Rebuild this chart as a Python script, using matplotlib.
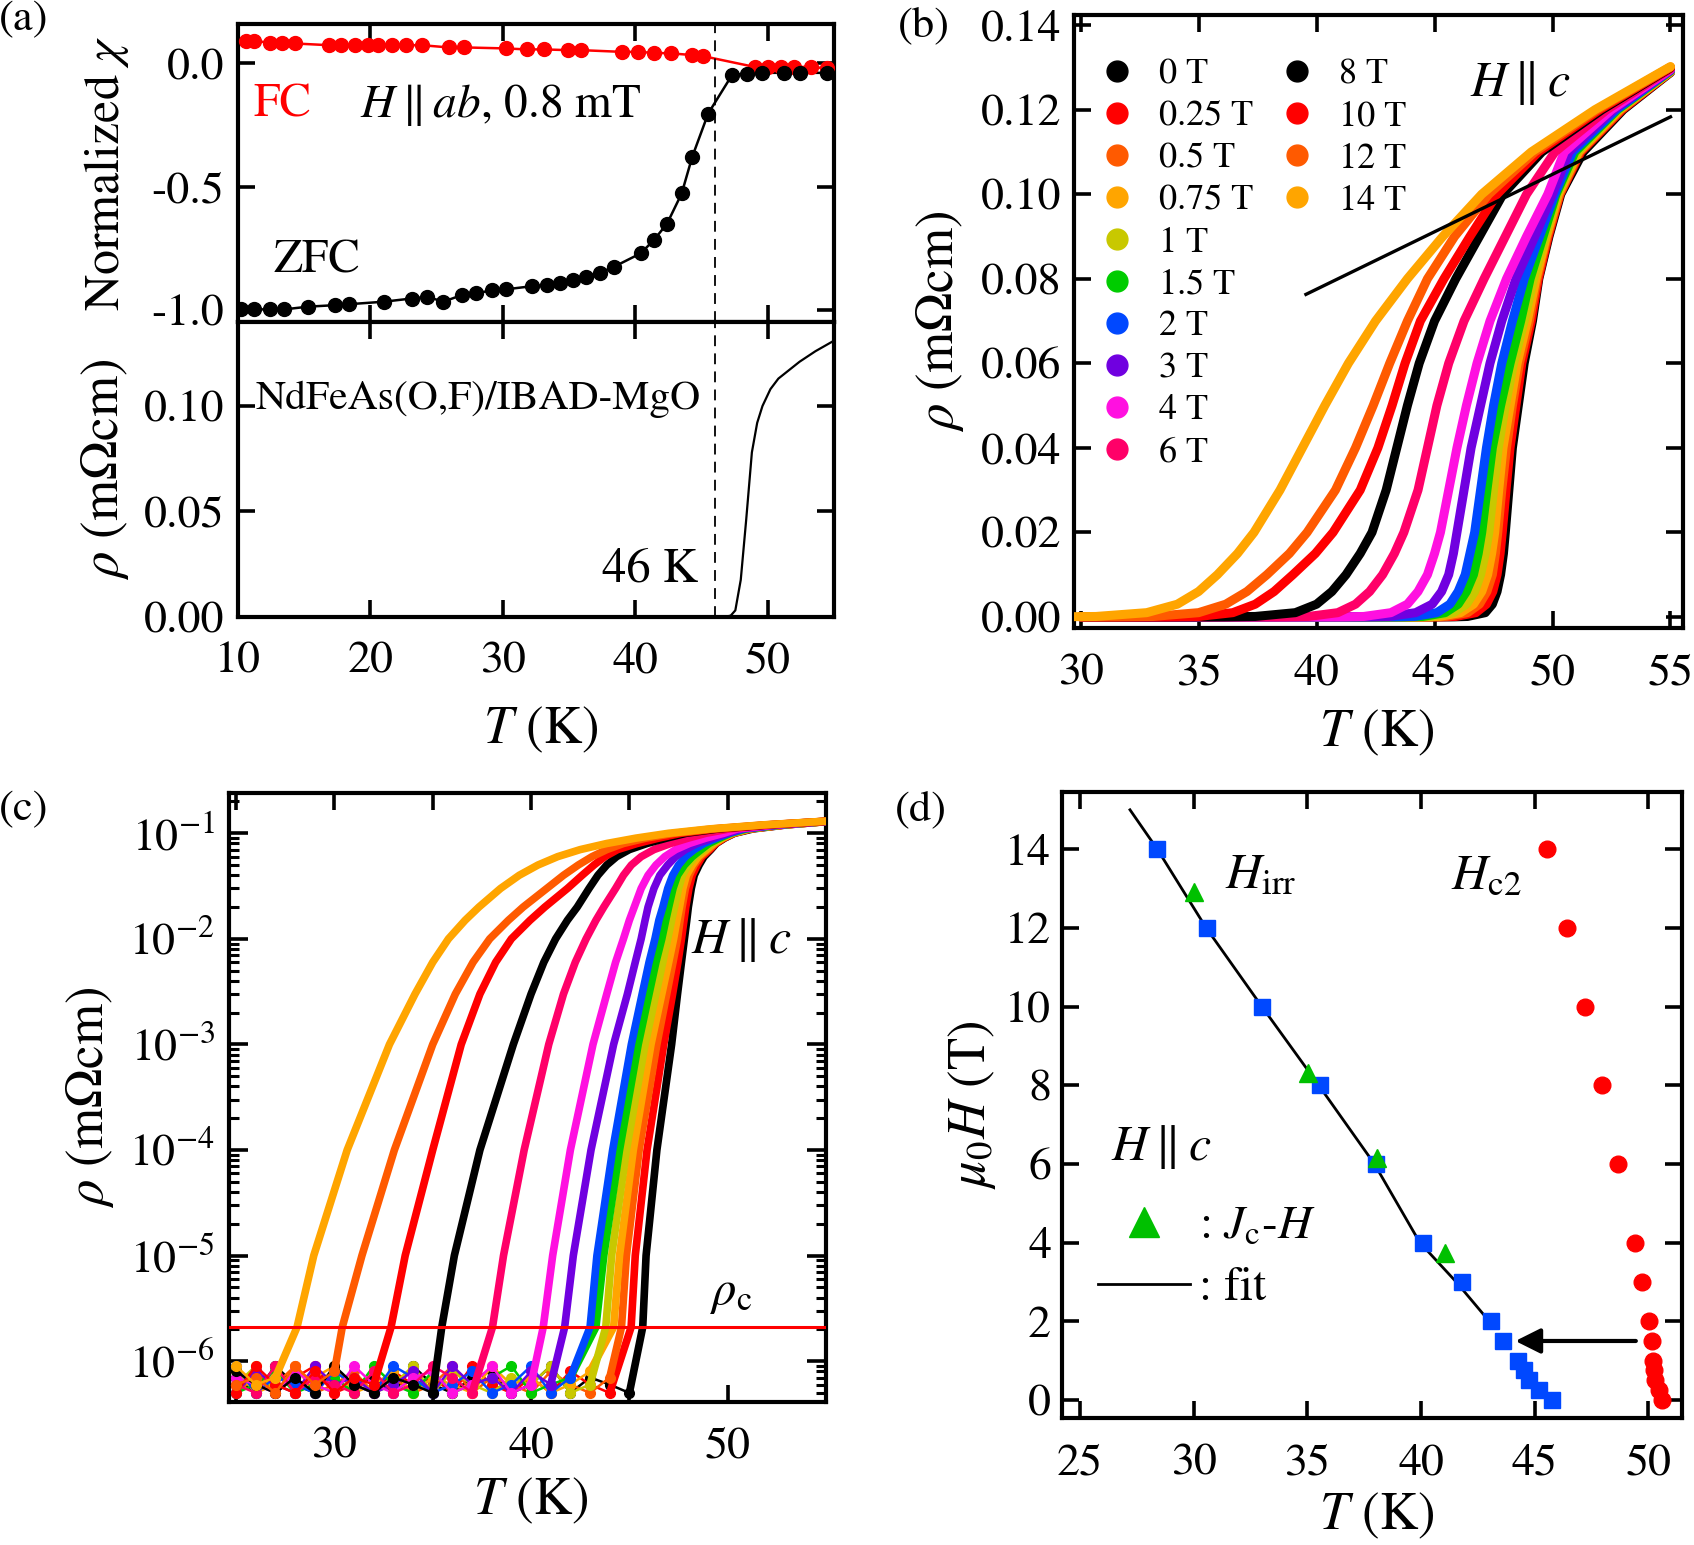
import matplotlib
matplotlib.use('Agg')
import matplotlib.pyplot as plt
from matplotlib.lines import Line2D
from matplotlib.ticker import (MultipleLocator, FormatStrFormatter, LogLocator,
                               NullFormatter, FixedLocator)

plt.rcParams['font.family'] = ['STIXGeneral', 'DejaVu Serif']
plt.rcParams['mathtext.fontset'] = 'stix'
plt.rcParams['axes.unicode_minus'] = False

# ---------------- panel (a): susceptibility ----------------
zfc_T = [10.2, 11.2, 12.4, 13.5, 15.3, 17.3, 18.4, 21.0, 23.1, 24.3, 25.5, 26.9, 28.0,
         29.2, 30.2, 32.2, 33.3, 34.3, 35.3, 36.3, 37.3, 38.4, 40.4, 41.4, 42.4, 43.5,
         44.3, 45.5, 47.3, 48.4, 49.6, 51.2, 52.4, 54.5]
zfc_chi = [-0.997, -0.997, -0.997, -0.997, -0.986, -0.980, -0.976, -0.966, -0.953, -0.946,
           -0.966, -0.939, -0.932, -0.919, -0.916, -0.903, -0.899, -0.889, -0.878, -0.865,
           -0.849, -0.824, -0.770, -0.716, -0.649, -0.527, -0.378, -0.203, -0.047, -0.041,
           -0.038, -0.038, -0.038, -0.038]
fc_T = [10.6, 11.2, 12.4, 13.3, 14.3, 16.9, 17.8, 18.8, 19.8, 20.6, 21.6, 22.7, 23.9,
        25.9, 27.1, 30.2, 31.8, 33.1, 34.9, 35.9, 39.0, 40.2, 41.4, 42.7, 44.3, 45.1,
        49.0, 50.0, 51.0, 52.0, 53.3, 54.5]
fc_chi = [0.092, 0.092, 0.084, 0.081, 0.081, 0.074, 0.074, 0.074, 0.074, 0.074, 0.074,
          0.074, 0.074, 0.065, 0.065, 0.061, 0.057, 0.057, 0.054, 0.054, 0.047, 0.047,
          0.043, 0.041, 0.034, 0.030, -0.014, -0.014, -0.014, -0.014, -0.014, -0.020]
# panel (a): zero-field resistivity
rhoA_T = [10.0, 46.8, 47.2, 47.55, 47.96, 48.37, 48.8, 49.2, 49.6, 50.2, 50.8, 51.6,
          52.4, 53.6, 55.0]
rhoA = [0.0, 0.0, 0.0005, 0.003, 0.0175, 0.046, 0.078, 0.092, 0.100, 0.108, 0.113,
        0.117, 0.121, 0.126, 0.131]
Tc_onset = 46.0

# ---------------- panels (b),(c): rho(T) in fields ----------------
field_labels = ['0 T', '0.25 T', '0.5 T', '0.75 T', '1 T', '1.5 T', '2 T', '3 T',
                '4 T', '6 T', '8 T', '10 T', '12 T', '14 T']
field_colors = ['#000000', '#ff0000', '#ff5a00', '#ffa500', '#c8c800', '#00cc00',
                '#0048ff', '#7000e0', '#ff10e0', '#ff0068', '#000000', '#ff0000',
                '#ff5a00', '#ffa500']
# resistivity levels (mOhm cm) at which each curve's temperature is read
rho_levels = [2.1e-6, 1e-5, 1e-4, 1e-3, 3e-3, 6e-3, 0.01, 0.015, 0.02, 0.03, 0.04,
              0.05, 0.06, 0.07, 0.08, 0.09, 0.10, 0.11, 0.12]
T_0T = [45.68, 45.85, 46.4, 47.15, 47.45, 47.65, 47.8, 47.92, 48.0, 48.15, 48.3, 48.55, 48.8, 49.15, 49.42, 49.85, 50.35, 51.3, 53.0]
T_025T = [45.09, 45.3, 45.9, 46.75, 47.2, 47.47, 47.65, 47.78, 47.87, 48.03, 48.2, 48.45, 48.7, 49.1, 49.4, 49.82, 50.32, 51.2, 52.95]
T_05T = [44.6, 44.85, 45.5, 46.4, 46.9, 47.22, 47.45, 47.58, 47.68, 47.85, 48.05, 48.3, 48.6, 49.02, 49.35, 49.78, 50.3, 51.15, 52.9]
T_075T = [44.2, 44.5, 45.2, 46.1, 46.65, 47.0, 47.25, 47.42, 47.55, 47.72, 47.9, 48.2, 48.5, 48.93, 49.3, 49.74, 50.25, 51.1, 52.85]
T_1T = [43.8, 44.1, 44.85, 45.8, 46.35, 46.7, 46.95, 47.15, 47.3, 47.5, 47.7, 48.0, 48.35, 48.8, 49.2, 49.68, 50.2, 51.05, 52.8]
T_15T = [43.3, 43.7, 44.5, 45.45, 46.0, 46.35, 46.65, 46.85, 47.0, 47.22, 47.45, 47.8, 48.2, 48.65, 49.05, 49.6, 50.15, 50.95, 52.75]
T_2T = [43.0, 43.35, 44.15, 45.1, 45.65, 46.0, 46.3, 46.5, 46.7, 46.95, 47.2, 47.5, 47.85, 48.3, 48.8, 49.45, 50.1, 50.85, 52.7]
T_3T = [41.71, 42.15, 43.05, 44.2, 44.9, 45.3, 45.6, 45.8, 45.95, 46.25, 46.55, 46.95, 47.35, 47.85, 48.45, 49.25, 50.0, 50.7, 52.6]
T_4T = [40.62, 41.1, 42.0, 43.15, 43.85, 44.3, 44.7, 45.0, 45.25, 45.6, 45.95, 46.35, 46.8, 47.35, 48.05, 48.9, 49.8, 50.5, 52.5]
T_6T = [38.04, 38.6, 39.65, 40.9, 41.65, 42.25, 42.8, 43.3, 43.7, 44.3, 44.7, 45.1, 45.6, 46.25, 47.1, 48.0, 48.9, 50.1, 52.3]
T_8T = [35.46, 36.1, 37.4, 39.1, 40.0, 40.65, 41.25, 41.85, 42.35, 42.95, 43.4, 43.85, 44.35, 45.0, 45.9, 46.9, 47.9, 49.55, 52.1]
T_10T = [32.88, 33.6, 35.0, 36.45, 37.4, 38.2, 39.0, 39.95, 40.7, 41.85, 42.6, 43.2, 43.75, 44.4, 45.4, 46.5, 47.65, 49.4, 52.0]
T_12T = [30.4, 31.4, 33.05, 35.0, 36.15, 37.05, 37.9, 38.85, 39.6, 40.8, 41.65, 42.4, 43.1, 43.85, 44.7, 45.85, 47.3, 49.25, 51.9]
T_14T = [28.1, 28.95, 30.65, 32.8, 34.1, 35.0, 35.8, 36.65, 37.35, 38.45, 39.4, 40.35, 41.35, 42.5, 43.85, 45.35, 47.0, 49.1, 51.8]
rho_at_55K = [0.1288, 0.1289, 0.1290, 0.1290, 0.1291, 0.1292, 0.1293, 0.1294, 0.1295,
              0.1297, 0.1299, 0.1300, 0.1301, 0.1302]
# noise floor below the transition (units of 1e-7 mOhm cm)
floor_T = [25.0, 26.0, 27.0, 28.0, 29.0, 30.0, 31.0, 32.0, 33.0, 34.0, 35.0, 36.0, 37.0,
           38.0, 39.0, 40.0, 41.0, 42.0, 43.0, 44.0, 45.0]
floor_0T = [7, 5, 9, 6, 5, 8, 6, 7, 5, 9, 6, 5, 7, 8, 5, 6, 9, 5, 7, 6, 5]
floor_025T = [6, 8, 5, 7, 9, 5, 6, 5, 8, 6, 7, 5, 9, 6, 5, 7, 5, 8, 6, 5, 7]
floor_05T = [5, 7, 6, 9, 5, 6, 8, 5, 7, 5, 6, 9, 5, 7, 6, 5, 8, 6, 5, 7, 9]
floor_075T = [8, 5, 6, 5, 7, 9, 5, 6, 8, 5, 7, 6, 5, 9, 6, 7, 5, 6, 8, 5, 6]
floor_1T = [6, 9, 5, 8, 6, 5, 7, 5, 6, 9, 5, 8, 6, 5, 7, 6, 9, 5, 6, 8, 5]
floor_15T = [5, 6, 8, 5, 6, 7, 5, 9, 6, 5, 8, 5, 6, 7, 9, 5, 6, 7, 5, 6, 8]
floor_2T = [9, 5, 7, 6, 5, 8, 6, 5, 9, 7, 5, 6, 8, 5, 6, 9, 5, 7, 6, 5, 7]
floor_3T = [5, 8, 6, 5, 9, 6, 7, 5, 6, 8, 5, 9, 6, 7, 5, 8, 6, 5, 9, 6, 5]
floor_4T = [7, 6, 5, 8, 6, 5, 9, 6, 5, 7, 8, 5, 6, 9, 5, 6, 7, 8, 5, 6, 9]
floor_6T = [6, 5, 9, 5, 7, 6, 5, 8, 5, 6, 9, 7, 5, 6, 8, 5, 9, 6, 5, 7, 6]
floor_8T = [8, 6, 5, 7, 5, 9, 6, 5, 7, 6, 5, 8, 9, 5, 6, 7, 5, 6, 9, 5, 8]
floor_10T = [5, 9, 6, 5, 8, 5, 7, 6, 9, 5, 6, 5, 7, 8, 5, 9, 6, 5, 7, 6, 5]
floor_12T = [6, 7, 5, 9, 6, 8, 5, 6, 5, 7, 9, 6, 5, 8, 6, 5, 7, 9, 6, 5, 8]
floor_14T = [9, 6, 7, 5, 6, 5, 8, 7, 6, 5, 9, 6, 8, 5, 7, 6, 5, 9, 6, 7, 5]
rho_c = 2.1e-6
normal_T = [39.55, 55.0]
normal_rho = [0.0763, 0.1183]

T_fields = [T_0T, T_025T, T_05T, T_075T, T_1T, T_15T, T_2T, T_3T, T_4T, T_6T, T_8T,
            T_10T, T_12T, T_14T]
floors = [floor_0T, floor_025T, floor_05T, floor_075T, floor_1T, floor_15T, floor_2T,
          floor_3T, floor_4T, floor_6T, floor_8T, floor_10T, floor_12T, floor_14T]

# ---------------- panel (d): phase diagram ----------------
Hirr_T = [45.78, 45.2, 44.75, 44.52, 44.25, 43.6, 43.1, 41.8, 40.1, 38.0, 35.57, 33.0, 30.6, 28.38]
Hirr_H = [0, 0.25, 0.5, 0.75, 1.0, 1.5, 2, 3, 4, 6, 8, 10, 12, 14]
Jc_T = [30.0, 35.05, 38.06, 41.05]
Jc_H = [12.9, 8.3, 6.14, 3.73]
Hc2_T = [50.6, 50.45, 50.3, 50.27, 50.2, 50.14, 50.05, 49.73, 49.43, 48.68, 47.95, 47.2, 46.4, 45.55]
Hc2_H = [0, 0.25, 0.5, 0.75, 1.0, 1.5, 2, 3, 4, 6, 8, 10, 12, 14]
fit_T = [27.2, 28.4, 30.55, 33.0, 35.5, 37.95, 39.95, 41.55, 42.8]
fit_H = [15.0, 14.0, 12.0, 10.0, 8.0, 6.0, 4.0, 3.0, 2.14]
arrow_T = [49.45, 44.15]
arrow_H = 1.5

# ================= figure =================
W, H = 1694, 1545
fig = plt.figure(figsize=(W / 100, H / 100), dpi=100)


def box(l, t, r, b):
    return [l / W, 1 - b / H, (r - l) / W, (b - t) / H]


axA1 = fig.add_axes(box(238, 24, 834, 321.7))
axA2 = fig.add_axes(box(238, 321.7, 834, 616.7))
axB = fig.add_axes(box(1074, 15, 1683, 628.3))
axC = fig.add_axes(box(229, 793.3, 826, 1401.7))
axD = fig.add_axes(box(1062, 791.7, 1682, 1418.3))

TICK = 33
LAB = 38


def style(ax, xpad=18, ypad=10):
    for s in ax.spines.values():
        s.set_linewidth(3.0)
    ax.tick_params(which='both', direction='in', top=True, right=True, width=2.6,
                   length=12, labelsize=TICK)
    ax.tick_params(axis='x', which='both', pad=xpad)
    ax.tick_params(axis='y', which='both', pad=ypad)


# ---- (a) upper
ax = axA1
style(ax)
ax.plot(fc_T, fc_chi, '-', color='#ff0000', lw=1.8, zorder=2)
ax.plot(fc_T, fc_chi, 'o', color='#ff0000', ms=10, zorder=3)
ax.plot(zfc_T, zfc_chi, '-', color='k', lw=1.8, zorder=2)
ax.plot(zfc_T, zfc_chi, 'o', color='k', ms=10, zorder=3)
ax.axvline(Tc_onset, color='k', lw=1.3, ls=(0, (6, 4)))
ax.set_xlim(10, 55)
ax.set_ylim(-1.047, 0.16)
ax.xaxis.set_major_locator(MultipleLocator(10))
ax.yaxis.set_major_locator(FixedLocator([-1.0, -0.5, 0.0]))
ax.yaxis.set_major_formatter(FormatStrFormatter('%.1f'))
ax.tick_params(labelbottom=False)
ax.set_ylabel(r'Normalized $\chi$', fontsize=36)
ax.yaxis.set_label_coords(-0.18, 0.5)
ax.text(11.2, -0.17, 'FC', color='#ff0000', fontsize=34, va='center', ha='left')
ax.text(19.2, -0.17, r'$H\parallel ab$, 0.8 mT', fontsize=34, va='center', ha='left')
ax.text(12.65, -0.80, 'ZFC', fontsize=34, va='center', ha='left')

# ---- (a) lower
ax = axA2
style(ax)
ax.plot(rhoA_T, rhoA, '-', color='k', lw=1.6)
ax.axvline(Tc_onset, color='k', lw=1.3, ls=(0, (6, 4)))
ax.set_xlim(10, 55)
ax.set_ylim(0, 0.14)
ax.xaxis.set_major_locator(MultipleLocator(10))
ax.yaxis.set_major_locator(FixedLocator([0.0, 0.05, 0.10]))
ax.yaxis.set_major_formatter(FormatStrFormatter('%.2f'))
ax.set_ylabel(r'$\rho$ (mΩcm)', fontsize=LAB)
ax.yaxis.set_label_coords(-0.18, 0.5)
ax.set_xlabel(r'$T$ (K)', fontsize=LAB)
ax.xaxis.set_label_coords(0.507, -0.30)
ax.text(44.9, 0.103, 'NdFeAs(O,F)/IBAD-MgO', fontsize=30, va='center', ha='right')
ax.text(44.7, 0.022, '46 K', fontsize=35, va='center', ha='right')

# ---- (b) linear rho(T)
ax = axB
style(ax, ypad=9)
for i in range(len(field_labels)):
    Tl = T_fields[i]
    fl = floors[i]
    fT = [t for t, v in zip(floor_T, fl) if 30.0 <= t < Tl[0] - 0.3]
    fR = [v * 1e-7 for t, v in zip(floor_T, fl) if 30.0 <= t < Tl[0] - 0.3]
    ax.plot(fT + Tl + [55.0], fR + rho_levels + [rho_at_55K[i]], '-',
            color=field_colors[i], lw=6.5, solid_capstyle='round',
            solid_joinstyle='round', zorder=2 + i)
ax.plot(normal_T, normal_rho, '-', color='k', lw=2.4, zorder=30)
ax.set_xlim(29.72, 55.53)
ax.set_ylim(-0.0027, 0.1424)
ax.xaxis.set_major_locator(MultipleLocator(5))
ax.yaxis.set_major_locator(MultipleLocator(0.02))
ax.yaxis.set_major_formatter(FormatStrFormatter('%.2f'))
ax.set_ylabel(r'$\rho$ (mΩcm)', fontsize=LAB)
ax.yaxis.set_label_coords(-0.178, 0.5)
ax.set_xlabel(r'$T$ (K)', fontsize=LAB)
ax.xaxis.set_label_coords(0.497, -0.13)
ax.text(46.5, 0.1262, r'$H\parallel c$', fontsize=36, va='center', ha='left')
handles = [Line2D([], [], ls='', marker='o', ms=15, color=c, mec=c) for c in field_colors]
leg1 = ax.legend(handles[:10], field_labels[:10], loc='upper left',
                 bbox_to_anchor=(0.047, 0.929), frameon=False, fontsize=26,
                 handlelength=0.8, handletextpad=0.75, labelspacing=0.24,
                 borderaxespad=0, borderpad=0)
ax.add_artist(leg1)
ax.legend(handles[10:], field_labels[10:], loc='upper left',
          bbox_to_anchor=(0.343, 0.929), frameon=False, fontsize=26,
          handlelength=0.8, handletextpad=0.75, labelspacing=0.24,
          borderaxespad=0, borderpad=0)

# ---- (c) log rho(T)
ax = axC
style(ax)
ax.set_yscale('log')
for i in range(len(field_labels)):
    Tl = T_fields[i]
    fl = floors[i]
    fT = [t for t, v in zip(floor_T, fl) if t < Tl[0] - 0.3]
    fR = [v * 1e-7 for t, v in zip(floor_T, fl) if t < Tl[0] - 0.3]
    c = field_colors[i]
    ax.plot(fT, fR, 'o-', color=c, ms=7, lw=1.8, zorder=2 + i)
    ax.plot(fT[-1:] + Tl + [55.0], fR[-1:] + rho_levels + [rho_at_55K[i]], '-',
            color=c, lw=5.5, solid_capstyle='round', solid_joinstyle='round',
            zorder=2 + i)
ax.axhline(rho_c, color='#ff0000', lw=2.2, zorder=40)
ax.set_xlim(24.64, 55.0)
ax.set_ylim(4.13e-7, 0.239)
ax.xaxis.set_major_locator(FixedLocator([30, 40, 50]))
ax.xaxis.set_minor_locator(FixedLocator([25, 35, 45, 55]))
ax.tick_params(axis='x', which='minor', length=12, width=2.6)
ax.yaxis.set_major_locator(LogLocator(base=10, numticks=20))
ax.yaxis.set_minor_locator(LogLocator(base=10, subs=(2, 3, 4, 5, 6, 7, 8, 9), numticks=20))
ax.yaxis.set_minor_formatter(NullFormatter())
ax.tick_params(axis='y', which='minor', length=7, width=2.2)
ax.tick_params(axis='y', which='major', length=14)
ax.set_ylabel(r'$\rho$ (mΩcm)', fontsize=LAB)
ax.yaxis.set_label_coords(-0.19, 0.5)
ax.set_xlabel(r'$T$ (K)', fontsize=LAB)
ax.xaxis.set_label_coords(0.506, -0.123)
ax.text(48.16, 0.0098, r'$H\parallel c$', fontsize=36, va='center', ha='left')
ax.text(49.1, 4.4e-6, r'$\rho_{\rm c}$', fontsize=35, va='center', ha='left')

# ---- (d) phase diagram
ax = axD
style(ax, ypad=8)
ax.plot(fit_T, fit_H, '-', color='k', lw=2.0, zorder=2)
ax.plot(Hc2_T, Hc2_H, 'o', color='#ff0000', ms=12, zorder=3)
ax.plot(Hirr_T, Hirr_H, 's', color='#0048ff', ms=11.5, zorder=3)
ax.plot(Jc_T, Jc_H, '^', color='#00c000', ms=13, zorder=4)
ax.annotate('', xy=(arrow_T[1], arrow_H), xytext=(arrow_T[0], arrow_H),
            arrowprops=dict(arrowstyle='-|>', lw=3, color='k', mutation_scale=38,
                            shrinkA=0, shrinkB=0))
ax.set_xlim(24.21, 51.48)
ax.set_ylim(-0.465, 15.46)
ax.xaxis.set_major_locator(MultipleLocator(5))
ax.yaxis.set_major_locator(MultipleLocator(2))
ax.set_ylabel(r'$\mu_0H$ (T)', fontsize=LAB)
ax.yaxis.set_label_coords(-0.103, 0.5)
ax.set_xlabel(r'$T$ (K)', fontsize=LAB)
ax.xaxis.set_label_coords(0.507, -0.117)
ax.text(31.4, 13.3, r'$H_{\rm irr}$', fontsize=36, va='center', ha='left')
ax.text(41.3, 13.3, r'$H_{\rm c2}$', fontsize=36, va='center', ha='left')
ax.text(26.37, 6.44, r'$H\parallel c$', fontsize=36, va='center', ha='left')
hd = [Line2D([], [], ls='', marker='^', ms=22, color='#00c000'),
      Line2D([], [], ls='-', lw=2.0, color='k')]
ax.legend(hd, [r': $J_{\rm c}$-$H$', ': fit'], loc='upper left',
          bbox_to_anchor=(0.058, 0.34), frameon=False, fontsize=34,
          handlelength=1.95, handletextpad=0.19, labelspacing=0.4,
          borderaxespad=0, borderpad=0)

# panel labels
for lab, x, y in [('(a)', 24, 20), ('(b)', 924, 26), ('(c)', 24, 810), ('(d)', 921, 810)]:
    fig.text(x / W, 1 - y / H, lab, fontsize=32, ha='center', va='center')

fig.savefig('out.png', dpi=100)
